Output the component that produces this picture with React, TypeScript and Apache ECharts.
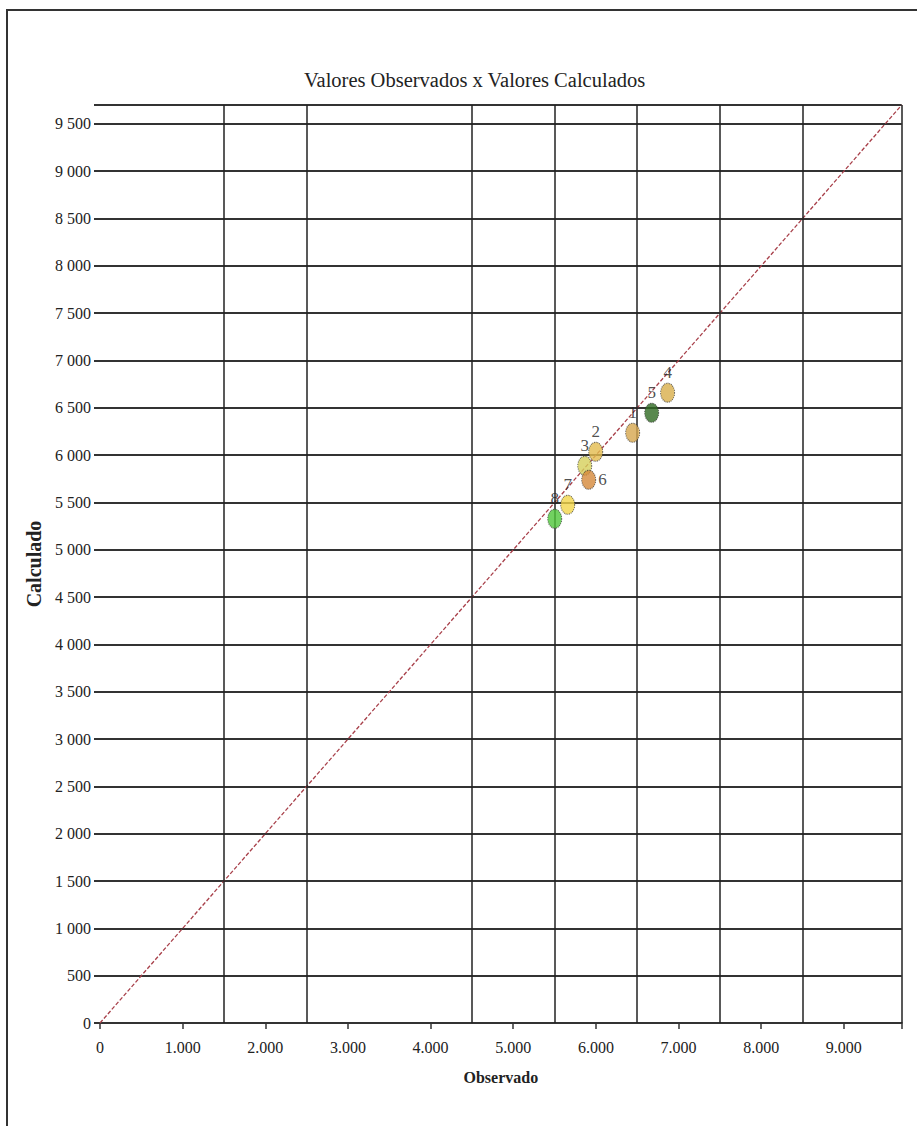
import React, { useEffect, useRef } from "react";
import * as echarts from "echarts";

const TITLE = "Valores Observados x Valores Calculados";
const X_NAME = "Observado";
const Y_NAME = "Calculado";

const pointLabels = ["1", "2", "3", "4", "5", "6", "7", "8"];
const observed = [6445, 5998, 5865, 6868, 6675, 5913, 5659, 5502];
const calculated = [6237, 6036, 5888, 6660, 6448, 5740, 5476, 5328];
const pointColors = ["#d6a64e", "#e4bc4e", "#d6d05a", "#d8ae4a", "#2f6a22", "#d4883a", "#f2d64a", "#4fc63a"];
const labelSides = ["top", "top", "top", "top", "top", "right", "top", "top"];

const axisMin = 0;
const axisMax = 9700;
const xTickStep = 1000;
const yTickStep = 500;
const verticalGridX = [1500, 2500, 4500, 5500, 6500, 7500, 8500, 9700];
const identityLine = [0, 9700];

const SERIF = '"Liberation Serif", "Times New Roman", serif';

function groupDigits(v: number, sep: string) {
  return String(v).replace(/\B(?=(\d{3})+(?!\d))/g, sep);
}

export default function App() {
  const ref = useRef<HTMLDivElement>(null);
  useEffect(() => {
    if (!ref.current) return;
    const chart = echarts.init(ref.current, undefined, { renderer: "svg" });
    chart.setOption({
      animation: false,
      backgroundColor: "#ffffff",
      title: {
        text: TITLE,
        left: 299,
        top: 64,
        textStyle: { fontFamily: SERIF, fontSize: 20.5, fontWeight: "normal", color: "#222" },
      },
      graphic: [
        {
          type: "rect",
          shape: { x: 7, y: 10, width: 940, height: 1140 },
          style: { fill: "none", stroke: "#333", lineWidth: 2 },
          silent: true,
        },
      ],
      grid: { left: 100, right: 15.3, top: 105, bottom: 103, containLabel: false },
      xAxis: {
        type: "value",
        min: axisMin,
        max: axisMax,
        interval: xTickStep,
        name: X_NAME,
        nameLocation: "middle",
        nameGap: 46,
        nameTextStyle: { fontFamily: SERIF, fontSize: 16, fontWeight: "bold", color: "#222" },
        axisLine: { show: true, lineStyle: { color: "#333", width: 2 } },
        axisTick: { show: true, length: 6, lineStyle: { color: "#333", width: 1.5 } },
        axisLabel: {
          margin: 16,
          fontFamily: SERIF,
          fontSize: 16,
          color: "#222",
          formatter: (v: number) => (v % xTickStep === 0 ? groupDigits(v, ".") : ""),
        },
        splitLine: { show: false },
      },
      yAxis: {
        type: "value",
        min: axisMin,
        max: axisMax,
        interval: yTickStep,
        name: Y_NAME,
        nameLocation: "middle",
        nameRotate: 90,
        nameGap: 46,
        nameTextStyle: { fontFamily: SERIF, fontSize: 20, fontWeight: "bold", color: "#222" },
        axisLine: { show: false },
        axisTick: { show: true, length: 6, lineStyle: { color: "#333", width: 2 } },
        axisLabel: {
          margin: 9,
          fontFamily: SERIF,
          fontSize: 16,
          color: "#222",
          formatter: (v: number) => (v % yTickStep === 0 ? groupDigits(v, " ") : ""),
        },
        splitLine: { show: true, lineStyle: { color: "#333", width: 2 } },
      },
      series: [
        {
          type: "line",
          data: [
            [identityLine[0], identityLine[0]],
            [identityLine[1], identityLine[1]],
          ],
          symbol: "none",
          silent: true,
          lineStyle: { color: "#a8404a", width: 1.3, type: [4, 2] },
          markLine: {
            silent: true,
            symbol: "none",
            label: { show: false },
            lineStyle: { color: "#222", width: 1.5, type: "solid" },
            data: verticalGridX.map((x) => ({ xAxis: x })),
          },
          z: 3,
        },
        {
          type: "scatter",
          symbol: "circle",
          symbolSize: [14, 19],
          z: 5,
          data: observed.map((x, i) => ({
            value: [x, calculated[i]],
            name: pointLabels[i],
            itemStyle: {
              color: pointColors[i],
              borderColor: "#333",
              borderWidth: 1,
              borderType: "dotted",
            },
            label: { position: labelSides[i] },
          })),
          label: {
            show: true,
            position: "top",
            distance: 2,
            formatter: (p: any) => p.name,
            fontFamily: SERIF,
            fontSize: 17,
            color: "#222",
          },
        },
      ],
    });
    return () => chart.dispose();
  }, []);
  return (
    <div
      ref={ref}
      style={{ position: "absolute", left: 0, top: 0, width: 917, height: 1126, background: "#fff" }}
    />
  );
}
